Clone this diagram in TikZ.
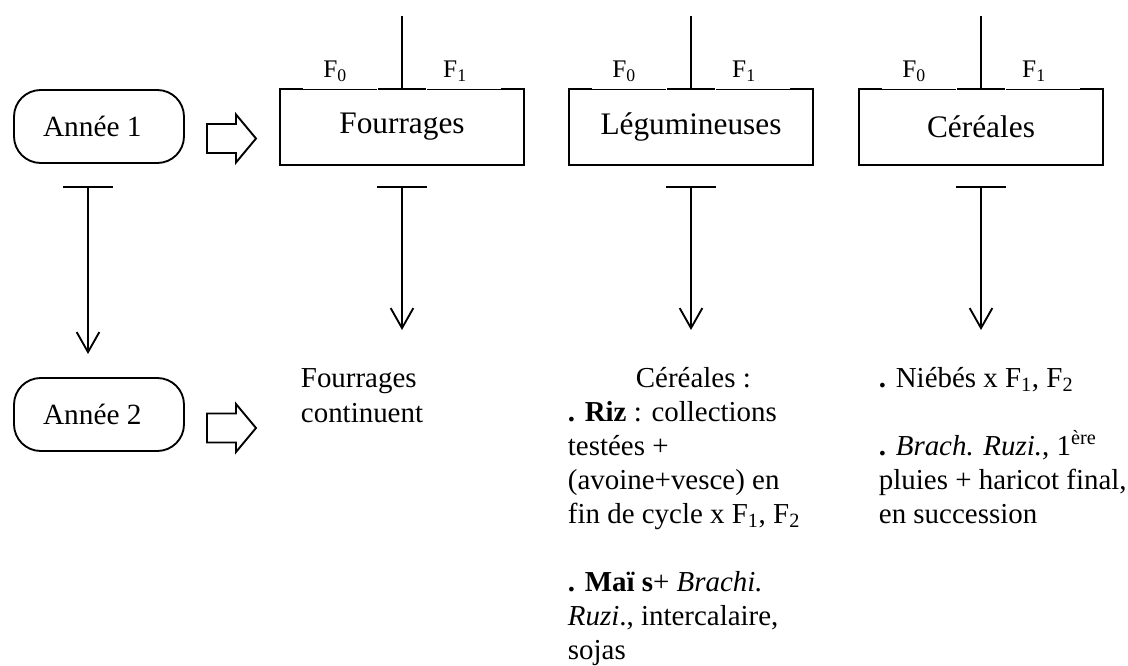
\documentclass[tikz,border=0pt]{standalone}
\usepackage{fontspec}
\setmainfont{Liberation Serif}
\usetikzlibrary{arrows.meta}
\begin{document}
\begin{tikzpicture}[x=0.75pt,y=-0.75pt,
  line width=1.4pt,
  yearbox/.style={draw, rounded corners=20pt, minimum width=127.5pt, minimum height=54.75pt, inner sep=0pt, font=\fontsize{22}{26}\selectfont},
  cropbox/.style={minimum width=181.5pt, minimum height=55.5pt, inner sep=0pt, font=\fontsize{23.5}{28}\selectfont},
  flabel/.style={inner sep=0pt, font=\fontsize{19}{22}\selectfont},
  conn/.style={-{Straight Barb[length=15pt,width=17pt]}},
  desc/.style={anchor=base west, align=left, inner sep=0pt, font=\fontsize{21.7}{25.5}\selectfont},
  blockarr/.pic={\draw[line join=miter] (0,-14.5) -- (29,-14.5) -- (29,-24) -- (49,0) -- (29,24) -- (29,14.5) -- (0,14.5) -- cycle;},
]
\useasboundingbox (0,0) rectangle (1128,666);

% year boxes
\node[yearbox] (an1) at (99,126.5) {Année 1\hspace*{10pt}};
\node[yearbox] (an2) at (99,414.5) {Année 2\hspace*{10pt}};

% block arrows
\pic at (207,138.5) {blockarr};
\pic at (207,428) {blockarr};

% crop boxes
\node[cropbox] (fourr) at (402,127) {Fourrages};
\node[cropbox] (legum) at (691,127) {Légumineuses};
\node[cropbox] (cer) at (981,127) {Céréales};

\foreach \n in {fourr,legum,cer} {
  \draw[line join=miter] (\n.north west) ++(23,0) -- (\n.north west) -- (\n.south west) -- (\n.south east) -- (\n.north east) -- ++(-23,0);
  \draw (\n.north) ++(-24,0) -- ++(48,0);
  \draw[line width=0.7pt] (\n.north west) ++(23,0) -- ++(74,0);
  \draw[line width=0.7pt] (\n.north east) ++(-23,0) -- ++(-74,0);
  \node[flabel] (\n F0) at ([xshift=41.25pt]\n.north west) [yshift=13.5pt] {F\textsubscript{0}};
  \node[flabel] (\n F1) at ([xshift=39.75pt]\n.north) [yshift=13.5pt] {F\textsubscript{1}};
}

% top inputs
\coordinate (topF) at (402,16);
\coordinate (topL) at (691,16);
\coordinate (topC) at (981,16);
\draw (topF) -- (fourr.north);
\draw (topL) -- (legum.north);
\draw (topC) -- (cer.north);

% T-bars and arrows
\coordinate (tA) at (88,187);  \coordinate (eA) at (88,354);
\coordinate (tF) at (402,187); \coordinate (eF) at (402,330);
\coordinate (tL) at (691,187); \coordinate (eL) at (691,330);
\coordinate (tC) at (981,187); \coordinate (eC) at (981,330);
\foreach \t/\e in {tA/eA,tF/eF,tL/eL,tC/eC} {
  \draw (\t) ++(-25,0) -- ++(50,0);
  \draw[conn] (\t) -- (\e);
}

% descriptions (base anchor = baseline of last line)
\node[desc] (dF) at (300,422) {Fourrages\\continuent};
\node[desc] (dL) at (567,659) {\hspace*{51pt}Céréales :\\
\textbf{. Riz} : collections\\
testées +\\
(avoine+vesce) en\\
fin de cycle x F\textsubscript{1}, F\textsubscript{2}\\[25.5pt]
\textbf{. Maï s}+ \textit{Brachi.}\\
\textit{Ruzi}., intercalaire,\\
sojas};
\node[desc] (dC) at (878,523) {\textbf{.} Niébés x F\textsubscript{1}, F\textsubscript{2}\\[25.5pt]
\textbf{.} \textit{Brach. Ruzi.}, 1\textsuperscript{ère}\\
pluies + haricot final,\\
en succession};
\end{tikzpicture}
\end{document}
